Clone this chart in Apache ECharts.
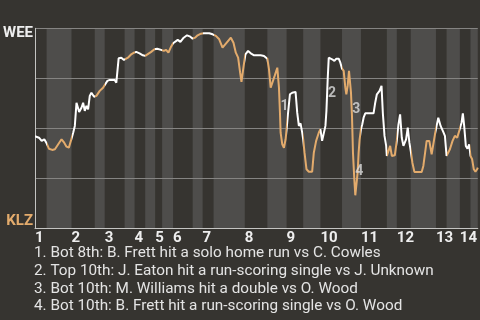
<!DOCTYPE html>
<html>
<head>
<meta charset="utf-8">
<style>html,body{margin:0;padding:0;background:#363430;}#chart{width:480px;height:320px;}</style>
<script src="https://cdn.jsdelivr.net/npm/echarts@6/dist/echarts.min.js"></script>
</head>
<body>
<div id="chart"></div>
<script>
// event index (plate appearance scale) and win probability for WEE
const eventX = [
0.0,1.2,2.0,2.8,3.5,
4.2,5.2,6.0,7.0,8.0,8.8,9.5,10.2,10.8,
11.5,12.0,12.5,13.3,14.0,14.5,15.0,15.5,16.0,16.5,17.0,17.5,17.8,
18.5,19.5,20.5,21.0,
21.8,22.5,24.0,24.5,25.2,26.0,26.8,
27.2,28.0,29.0,29.8,
30.5,31.5,32.5,33.2,
33.8,35.0,36.0,
36.8,38.0,
38.8,39.5,40.2,41.0,41.6,
42.2,43.0,43.8,44.8,45.8,46.8,47.5,
48.2,49.0,50.0,
50.8,52.5,53.5,
54.5,55.5,56.5,57.0,58.2,59.0,59.8,60.5,61.2,61.8,62.2,62.6,63.0,
63.4,64.2,65.0,66.0,68.0,69.0,69.5,70.0,
70.5,71.0,71.5,72.2,73.0,73.5,73.8,74.0,74.5,75.0,75.5,75.8,
76.2,76.8,77.5,78.5,79.0,79.5,80.0,80.5,80.8,
81.2,81.8,82.5,83.5,84.0,84.7,85.5,86.0,
86.5,87.0,87.5,87.8,88.2,88.5,89.0,89.5,90.2,90.8,91.5,92.0,92.5,
93.0,93.5,93.8,94.2,94.6,94.9,95.2,95.5,95.8,96.2,96.5,96.8,97.2,97.5,97.8,98.2,
98.6,99.0,99.5,102.0,102.5,103.0,103.8,104.4,104.8,105.3,105.8,106.0,
106.5,107.0,107.5,108.4,109.0,
109.5,110.0,110.5,111.0,111.8,112.3,112.8,113.2,
113.7,114.3,116.5,117.0,118.0,118.8,119.5,120.0,120.5,
121.0,121.5,122.2,123.0,123.5,124.0,
124.5,125.0,125.8,126.5,127.2,128.0,
128.5,128.9,129.3,129.8,130.3,130.8,131.2,
131.7,132.2,132.7,133.2,133.4
];
const winProb = [
0.46,0.453,0.437,0.445,0.425,
0.398,0.392,0.395,0.42,0.445,0.428,0.408,0.403,0.437,
0.478,0.512,0.628,0.582,0.603,0.628,0.587,0.612,0.595,0.662,0.678,0.67,0.658,
0.662,0.687,0.703,0.712,
0.737,0.742,0.742,0.728,0.85,0.853,0.842,
0.84,0.853,0.87,0.878,
0.882,0.875,0.865,0.862,
0.858,0.882,0.895,
0.898,0.892,
0.887,0.892,0.878,0.908,0.925,
0.932,0.942,0.932,0.953,0.965,0.958,0.948,
0.953,0.965,0.973,
0.975,0.975,0.97,
0.962,0.945,0.903,0.908,0.937,0.953,0.928,0.878,0.853,0.778,0.732,0.737,0.828,
0.87,0.887,0.875,0.865,0.865,0.862,0.87,0.848,
0.795,0.703,0.712,0.762,0.803,0.703,0.578,0.478,0.42,0.403,0.445,0.495,
0.57,0.67,0.678,0.682,0.578,0.512,0.525,0.478,0.445,
0.378,0.295,0.283,0.283,0.378,0.437,0.478,0.495,
0.437,0.445,0.512,0.587,0.753,0.853,0.862,0.845,0.837,0.848,0.848,0.828,0.798,
0.787,0.703,0.67,0.712,0.787,0.778,0.678,0.562,0.378,0.245,0.165,0.17,0.278,0.378,0.445,0.495,
0.52,0.553,0.575,0.575,0.628,0.67,0.687,0.712,0.575,0.462,0.412,0.362,
0.362,0.412,0.362,0.365,0.437,
0.52,0.57,0.453,0.412,0.445,0.503,0.428,0.387,
0.328,0.282,0.282,0.312,0.437,0.437,0.37,0.378,0.47,
0.512,0.553,0.512,0.482,0.462,0.362,
0.362,0.395,0.437,0.462,0.453,0.498,
0.528,0.575,0.512,0.412,0.398,0.42,0.362,
0.345,0.295,0.283,0.295,0.303
];
// start of each half inning (top 1, bot 1, top 2, ...) on the event scale
const halfStarts = [0,3.5,11.0,18.0,21.0,27.0,30.0,33.2,36.2,38.3,41.6,47.5,50.5,53.8,63.2,70.0,75.8,80.8,86.0,92.5,98.2,106.0,109.0,113.2,120.8,124.0,128.0,131.2];
const gameEnd = 133.4;
const inningLabels = ['1','2','3','4','5','6','7','8','9','10','11','12','13','14'];
const teamTop = 'WEE';
const teamBottom = 'KLZ';
// annotated plays
const noteIds = ['1','2','3','4'];
const noteX = [75.2, 89.5, 96.8, 97.7];
const noteY = [0.611, 0.673, 0.595, 0.283];
const noteTexts = [
  '1. Bot 8th: B. Frett hit a solo home run vs C. Cowles',
  '2. Top 10th: J. Eaton hit a run-scoring single vs J. Unknown',
  '3. Bot 10th: M. Williams hit a double vs O. Wood',
  '4. Bot 10th: B. Frett hit a run-scoring single vs O. Wood'
];

const WHITE = '#ffffff', ORANGE = '#e3ab6c', BAND = '#4e4d4b', BG = '#363430';
const lineData = [];
for (let i = 0; i < Math.min(eventX.length, winProb.length); i++) lineData.push([eventX[i], winProb[i]]);
const bounds = halfStarts.concat([gameEnd]);
const pieces = [];
const bands = [];
for (let i = 0; i < halfStarts.length; i++) {
  pieces.push({gte: bounds[i], lt: (i === halfStarts.length - 1 ? gameEnd + 1 : bounds[i + 1]), color: i % 2 === 0 ? WHITE : ORANGE});
  if (i % 2 === 1) bands.push([bounds[i], bounds[i + 1]]);
}
const topStarts = halfStarts.filter((v, i) => i % 2 === 0);

const chart = echarts.init(document.getElementById('chart'), null, {renderer: 'canvas'});
chart.setOption({
  backgroundColor: BG,
  animation: false,
  textStyle: {fontFamily: 'Roboto'},
  grid: {left: 33.3, right: 2, top: 28.3, bottom: 91.7},
  xAxis: {
    type: 'value', min: 0, max: gameEnd,
    axisLine: {show: true, onZero: false, lineStyle: {color: '#c4c4c2', width: 1}},
    axisTick: {show: false},
    splitLine: {show: false},
    axisLabel: {
      customValues: topStarts,
      margin: 2,
      align: 'left',
      color: '#eeeeee', fontWeight: 'bold', fontSize: 15, fontFamily: 'Roboto',
      formatter: function (v) {
        let best = 0;
        for (let i = 0; i < topStarts.length; i++) if (Math.abs(topStarts[i] - v) < Math.abs(topStarts[best] - v)) best = i;
        return inningLabels[best];
      }
    }
  },
  yAxis: {
    type: 'value', min: 0, max: 1, interval: 0.25,
    axisLine: {show: true, lineStyle: {color: '#c4c4c2', width: 1}},
    axisTick: {show: false},
    splitLine: {show: true, lineStyle: {color: '#858482', width: 1}},
    axisLabel: {
      customValues: [0, 1],
      margin: 2,
      formatter: function (v) { return v >= 0.5 ? '{t|' + teamTop + '}' : '{b|' + teamBottom + '}'; },
      rich: {
        t: {color: '#eeeeee', fontWeight: 'bold', fontSize: 15, fontFamily: 'Roboto', padding: [10, 0, 0, 0]},
        b: {color: ORANGE, fontWeight: 'bold', fontSize: 15, fontFamily: 'Roboto', padding: [0, 0, 14, 0]}
      }
    }
  },
  visualMap: {
    type: 'piecewise', show: false, dimension: 0, seriesIndex: 1,
    pieces: pieces
  },
  series: [
    {
      type: 'custom', z: -1, silent: true,
      encode: {x: [0, 1]},
      data: bands,
      renderItem: function (params, api) {
        const p0 = api.coord([api.value(0), 1]);
        const p1 = api.coord([api.value(1), 0]);
        return {type: 'rect', shape: {x: p0[0], y: p0[1], width: p1[0] - p0[0], height: p1[1] - p0[1]}, style: {fill: BAND}};
      }
    },
    {
      type: 'line', data: lineData, showSymbol: false, symbol: 'none', z: 3,
      lineStyle: {width: 2}
    },
    {
      type: 'scatter', z: 4, symbolSize: 1, itemStyle: {color: 'rgba(0,0,0,0)'},
      data: noteIds.map((n, i) => ({name: n, value: [noteX[i], noteY[i]]})),
      label: {show: true, position: 'inside', formatter: '{b}', color: '#dcdcdc', fontWeight: 'bold', fontSize: 14, fontFamily: 'Roboto'}
    }
  ],
  graphic: [{
    type: 'text', left: 34, top: 244.3,
    style: {text: noteTexts.join('\n'), fill: '#e4e4e4', font: '15.3px Roboto', lineHeight: 17.8}
  }]
});
</script>
</body>
</html>
